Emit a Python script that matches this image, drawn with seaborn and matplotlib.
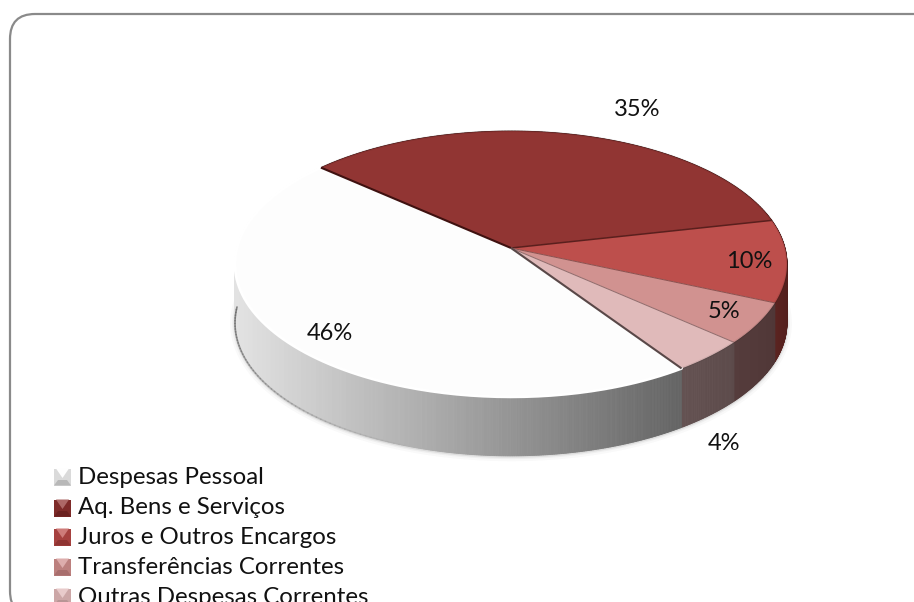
import numpy as np
import matplotlib
matplotlib.use('Agg')
import matplotlib.pyplot as plt
from matplotlib.patches import FancyBboxPatch, Polygon
import seaborn as sns

# ── data ────────────────────────────────────────────────
categories = ['Despesas Pessoal', 'Aq. Bens e Serviços', 'Juros e Outros Encargos',
              'Transferências Correntes', 'Outras Despesas Correntes']
values = [46, 35, 10, 5, 4]
label_xy = [(330, 333), (637, 109), (749, 262), (724, 312), (724, 444)]

top_colors = sns.color_palette(['#fdfdfd', '#913533', '#bd4f4c', '#d19290', '#e0baba'])
wall_from = ['#e2e2e2', '#4a1c1a', '#5a2320', '#553c3c', '#645252']
wall_to = ['#646464', '#4a1c1a', '#471a18', '#503737', '#5c4a4a']
legend_dark = ['#b8b8b8', '#6b2120', '#8f3432', '#a86e6d', '#b89595']

sns.set_theme(style='white')
plt.rcParams['font.family'] = ['Lato', 'DejaVu Sans']

fig, ax = plt.subplots(figsize=(9.14, 6.02), dpi=100)
fig.subplots_adjust(0, 0, 1, 1)
ax.set_xlim(0, 914)
ax.set_ylim(602, 0)
ax.axis('off')

# frame, runs off the right and bottom of the picture
ax.add_patch(FancyBboxPatch((35, 39), 1000, 552, boxstyle='round,pad=25,rounding_size=25',
                            fc='white', ec='#8a8a8a', lw=1.6, zorder=0))

# pie geometry: disc seen in perspective, apex is above the centre of the ellipse
cx, cy = 511, 248
A, B, tilt = 274, 131, 0.12
depth = 59
start = 138.5


def rim(theta):
    t = np.radians(theta)
    w = 1 + tilt * np.sin(t)
    return cx + A * np.cos(t) / w, cy - B * np.sin(t) / w


# slice boundaries, clockwise from the dark slice
order = [1, 2, 3, 4, 0]
edges = {}
a = start
for i in order:
    b = a - values[i] / sum(values) * 360
    edges[i] = (a, b)
    a = b

# soft shadow under the wall
th = np.linspace(-185, 5, 300)
sx, sy = rim(th)
for lw, al in [(7, 0.03), (4, 0.05), (2, 0.10)]:
    ax.plot(sx, sy + depth + 0.5, color='#444444', lw=lw, alpha=al, zorder=0.5)

# walls
for i in order:
    a, b = edges[i]
    th = np.linspace(a, b, max(int(abs(a - b) * 3), 8))
    x, y = rim(th)
    if i == 0:
        # gradient runs left to right across the white slice
        pos = (x - x.min()) / (x.max() - x.min())
    else:
        pos = np.linspace(1, 0, len(x))
    pal = sns.blend_palette([wall_from[i], wall_to[i]], 101)
    for k in range(len(x) - 1):
        c = pal[int(pos[k] * 100)]
        ax.fill([x[k], x[k + 1], x[k + 1], x[k]],
                [y[k], y[k + 1], y[k + 1] + depth, y[k] + depth],
                color=c, lw=0.6, zorder=1)

# dark edge low on the left of the wall, fades out towards the middle
th = np.linspace(-180, -110, 60)
sx, sy = rim(th)
for k in range(len(th) - 1):
    ax.plot(sx[k:k + 2], sy[k:k + 2] + depth, color='#6a6a6a', lw=1.2,
            alpha=0.8 * (1 - k / len(th)), zorder=1.5)

# top faces
for i in order:
    a, b = edges[i]
    th = np.linspace(a, b, 200)
    x, y = rim(th)
    ax.add_patch(Polygon(np.r_[[[cx, cy]], np.c_[x, y]], closed=True,
                         fc=top_colors[i], ec='none', zorder=2))
    # bevel along the rim: pale on the white slice, dark on the others
    if i == 0:
        ax.plot(x, y, color='white', lw=2, zorder=2.5)
    else:
        ax.plot(x, y, color='#000000', lw=1.5, alpha=0.07, zorder=2.5)

# lines between the slices
for i, col, lw in zip(order, ['#3f1110', '#5a1f1d', '#8a4f4d', '#8f6a6a', '#594848'],
                      [1.5, 1.1, 0.7, 0.7, 1.5]):
    ex, ey = rim(edges[i][0])
    ax.plot([cx, ex], [cy, ey], color=col, lw=lw, solid_capstyle='butt', zorder=3)

# percent labels
for v, (lx, ly) in zip(values, label_xy):
    ax.text(lx, ly, f'{v}%', ha='center', va='center', fontsize=17, color='#111111', zorder=4)

# legend: bevelled squares and names
leg_y = [477, 508, 537, 567, 597]
for i, (name, ly) in enumerate(zip(categories, leg_y)):
    x0, x1, y0, y1 = 54, 71, ly - 8.5, ly + 8.5
    xm, ym = (x0 + x1) / 2, (y0 + y1) / 2
    side = sns.blend_palette([top_colors[i], legend_dark[i]], 5)[2]
    bright = sns.blend_palette([top_colors[i], '#ffffff'], 5)[1]
    ax.add_patch(Polygon([(x0, y0), (x1, y0), (x1, y1), (x0, y1)], fc=side, ec='none', zorder=3))
    ax.add_patch(Polygon([(x0 + 2, y0), (x1 - 2, y0), (xm, ym + 1)], fc=bright, ec='none', zorder=3))
    ax.add_patch(Polygon([(x0, y1), (x1, y1), (x1 - 4, ym + 3), (x0 + 4, ym + 3)], fc=legend_dark[i], ec='none', zorder=3))
    ax.text(78, ly, name, ha='left', va='center', fontsize=17.3, color='#111111', zorder=4)

fig.savefig('out.png', dpi=100)
